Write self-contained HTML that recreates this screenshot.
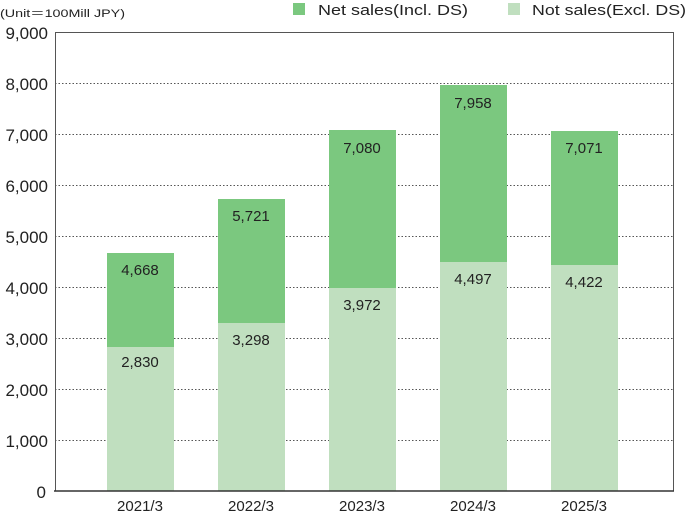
<!DOCTYPE html>
<html><head><style>
body{margin:0;background:#fff;}
svg text{font-family:"Liberation Sans",sans-serif;}
</style></head><body>
<svg width="700" height="513" xmlns="http://www.w3.org/2000/svg">
<text x="0" y="17" font-size="11" fill="#222" textLength="125" lengthAdjust="spacingAndGlyphs">(Unit＝100Mill JPY)</text>
<rect x="293" y="3" width="12" height="12" fill="#7bc87f"/>
<text x="318" y="15" font-size="15" fill="#222" textLength="150" lengthAdjust="spacingAndGlyphs">Net sales(Incl. DS)</text>
<rect x="508" y="3" width="12" height="12" fill="#c0dfbf"/>
<text x="532" y="15" font-size="15" fill="#222" textLength="154" lengthAdjust="spacingAndGlyphs">Not sales(Excl. DS)</text>
<g stroke="#555" stroke-width="1" stroke-dasharray="1.5,2">
<line x1="55" x2="674" y1="83.5" y2="83.5"/><line x1="55" x2="674" y1="134.5" y2="134.5"/>
<line x1="55" x2="674" y1="185.5" y2="185.5"/><line x1="55" x2="674" y1="236.5" y2="236.5"/>
<line x1="55" x2="674" y1="287.5" y2="287.5"/><line x1="55" x2="674" y1="338.5" y2="338.5"/>
<line x1="55" x2="674" y1="389.5" y2="389.5"/><line x1="55" x2="674" y1="440.5" y2="440.5"/>
</g>
<g font-size="17" fill="#222" text-anchor="end">
<text x="48" y="39">9,000</text><text x="48" y="90">8,000</text><text x="48" y="141">7,000</text>
<text x="48" y="192">6,000</text><text x="48" y="243">5,000</text><text x="48" y="294">4,000</text>
<text x="48" y="345">3,000</text><text x="48" y="396">2,000</text><text x="48" y="447">1,000</text>
<text x="46" y="498">0</text>
</g>
<g>
<rect x="107" y="253" width="67" height="238" fill="#7bc87f"/><rect x="107" y="347" width="67" height="144" fill="#c0dfbf"/>
<rect x="218" y="199" width="67" height="292" fill="#7bc87f"/><rect x="218" y="323" width="67" height="168" fill="#c0dfbf"/>
<rect x="329" y="130" width="67" height="361" fill="#7bc87f"/><rect x="329" y="288" width="67" height="203" fill="#c0dfbf"/>
<rect x="440" y="85" width="67" height="406" fill="#7bc87f"/><rect x="440" y="262" width="67" height="229" fill="#c0dfbf"/>
<rect x="551" y="131" width="67" height="360" fill="#7bc87f"/><rect x="551" y="265" width="67" height="226" fill="#c0dfbf"/>
</g>
<rect x="55.5" y="32.5" width="618" height="458.5" fill="none" stroke="#555" stroke-width="1"/>
<line x1="54" x2="674" y1="491" y2="491" stroke="#333" stroke-width="1.5"/>
<g font-size="15" fill="#222" text-anchor="middle">
<text x="140" y="275">4,668</text><text x="140" y="367">2,830</text>
<text x="251" y="221">5,721</text><text x="251" y="345">3,298</text>
<text x="362" y="153">7,080</text><text x="362" y="310">3,972</text>
<text x="473" y="108">7,958</text><text x="473" y="284">4,497</text>
<text x="584" y="153">7,071</text><text x="584" y="287">4,422</text>
</g>
<g font-size="15" fill="#222" text-anchor="middle">
<text x="140" y="511">2021/3</text><text x="251" y="511">2022/3</text><text x="362" y="511">2023/3</text>
<text x="473" y="511">2024/3</text><text x="584" y="511">2025/3</text>
</g>
</svg>
</body></html>
